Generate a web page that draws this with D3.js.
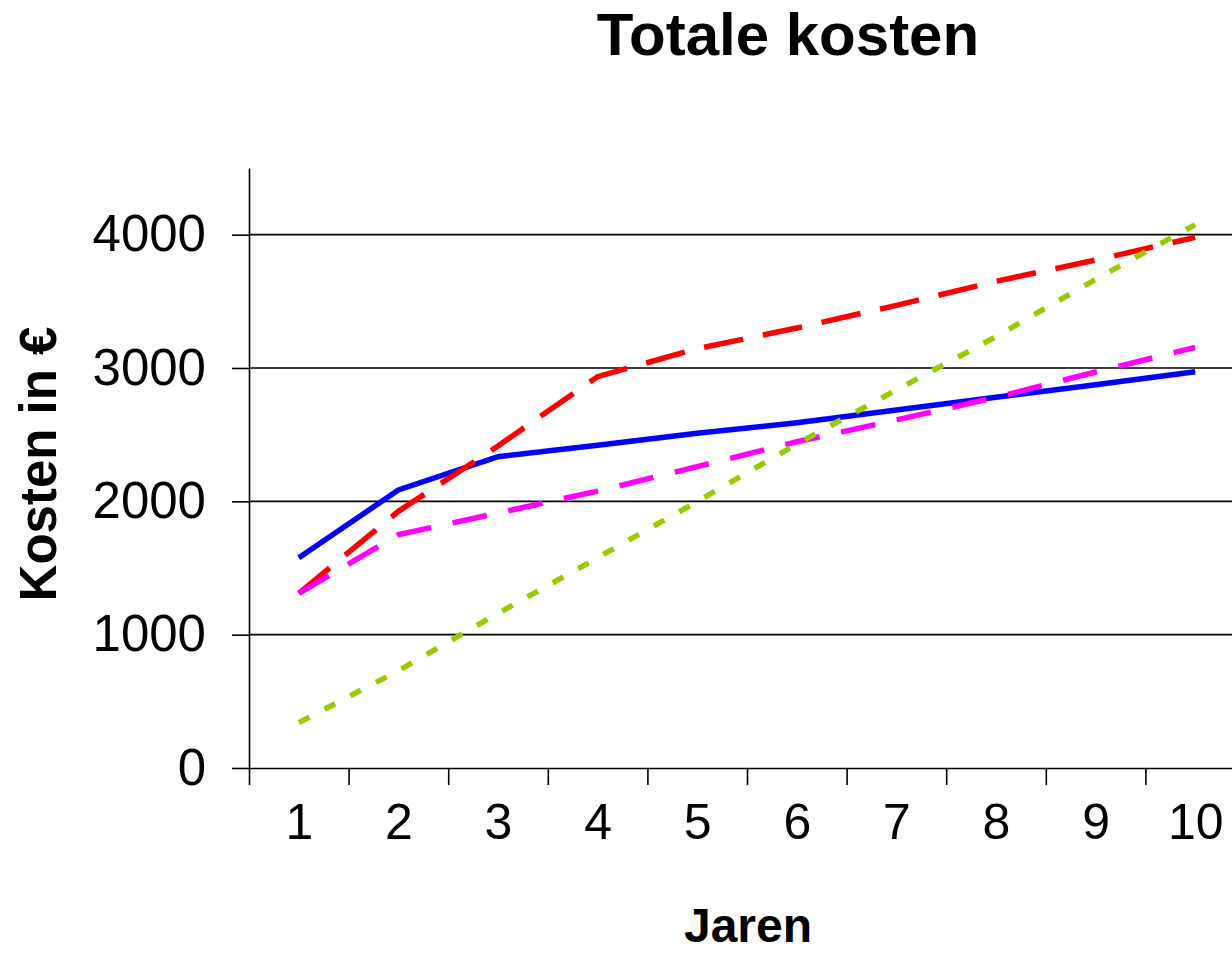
<!DOCTYPE html>
<html lang="nl">
<head>
    <meta charset="UTF-8">
    <title>Totale kosten</title>
    <script src="https://d3js.org/d3.v7.min.js"></script>
    <style>
        body { margin: 0; background: #fff; }
        text { font-family: "Liberation Sans", Arial, sans-serif; fill: #000; }
    </style>
</head>
<body>
    <div id="chart"></div>
    <script>
        // data
        var jaren = [1, 2, 3, 4, 5, 6, 7, 8, 9, 10];
        var yTicks = [0, 1000, 2000, 3000, 4000];
        var serieBlauw   = [1577, 2085, 2335, 2420, 2510, 2590, 2685, 2780, 2875, 2972];
        var serieRood    = [1310, 1925, 2415, 2935, 3145, 3300, 3470, 3650, 3810, 3980];
        var serieRoze    = [1310, 1750, 1912, 2077, 2260, 2447, 2610, 2780, 2970, 3155];
        var serieGroen   = [340, 730, 1160, 1577, 1998, 2430, 2835, 3235, 3665, 4075];

        var width = 1232, height = 954;

        var series = [
            { values: serieBlauw, color: "#0000ff", dash: null },
            { values: serieRood, color: "#ff0000", dash: "40,20" },
            { values: serieRoze, color: "#ff00ff", dash: "35,22" },
            { values: serieGroen, color: "#99cc00", dash: "12,17" }
        ];

        var svg = d3.select("#chart").append("svg")
            .attr("width", width)
            .attr("height", height);

        // x runs in bands, one per year; plot is cut off on the right
        var x = d3.scaleLinear()
            .domain([0.5, 10.5])
            .range([249, 1245]);

        var y = d3.scaleLinear()
            .domain([0, 4500])
            .range([768, 168]);

        // gridlines
        svg.append("g")
            .selectAll("line")
            .data(yTicks.filter(function(d) { return d > 0; }))
            .join("line")
            .attr("x1", x(0.5))
            .attr("x2", x(10.5))
            .attr("y1", function(d) { return y(d); })
            .attr("y2", function(d) { return y(d); })
            .attr("stroke", "#000")
            .attr("stroke-width", 1.6);

        // y axis
        var yAxis = svg.append("g")
            .attr("transform", "translate(" + x(0.5) + ",0)")
            .call(d3.axisLeft(y).tickValues(yTicks).tickSize(17).tickSizeOuter(0)
                .tickPadding(26).tickFormat(d3.format("d")));
        yAxis.select(".domain").attr("stroke", "#000").attr("stroke-width", 1.6);
        yAxis.selectAll(".tick line").attr("stroke", "#000").attr("stroke-width", 1.6);
        yAxis.selectAll("text")
            .style("font-size", "51px")
            .style("font-family", '"Liberation Sans", Arial, sans-serif')
            .attr("fill", "#000");

        // x axis: ticks on band edges
        var xAxis = svg.append("g")
            .attr("transform", "translate(0," + y(0) + ")")
            .call(d3.axisBottom(x).tickValues(d3.range(0.5, 11, 1)).tickSize(17).tickSizeOuter(0).tickFormat(""));
        xAxis.select(".domain").attr("stroke", "#000").attr("stroke-width", 1.6);
        xAxis.selectAll(".tick line").attr("stroke", "#000").attr("stroke-width", 1.6);

        // x labels in the middle of each band
        var xLabels = svg.append("g")
            .attr("transform", "translate(0," + y(0) + ")")
            .call(d3.axisBottom(x).tickValues(jaren).tickSize(0).tickPadding(35).tickFormat(d3.format("d")));
        xLabels.select(".domain").remove();
        xLabels.selectAll("text")
            .style("font-size", "50px")
            .style("font-family", '"Liberation Sans", Arial, sans-serif')
            .attr("fill", "#000");

        // lines
        var line = d3.line()
            .x(function(d, i) { return x(jaren[i]); })
            .y(function(d) { return y(d); });

        svg.append("g")
            .selectAll("path")
            .data(series)
            .join("path")
            .attr("d", function(s) { return line(s.values); })
            .attr("fill", "none")
            .attr("stroke", function(s) { return s.color; })
            .attr("stroke-width", 5.5)
            .attr("stroke-dasharray", function(s) { return s.dash; });

        // titles
        svg.append("text")
            .attr("x", 788)
            .attr("y", 55)
            .attr("text-anchor", "middle")
            .style("font-size", "60px")
            .style("font-weight", "bold")
            .text("Totale kosten");

        svg.append("text")
            .attr("x", 748)
            .attr("y", 942)
            .attr("text-anchor", "middle")
            .style("font-size", "48px")
            .style("font-weight", "bold")
            .text("Jaren");

        svg.append("text")
            .attr("transform", "translate(56,464) rotate(-90)")
            .attr("text-anchor", "middle")
            .style("font-size", "51px")
            .style("font-weight", "bold")
            .text("Kosten in €");
    </script>
</body>
</html>
